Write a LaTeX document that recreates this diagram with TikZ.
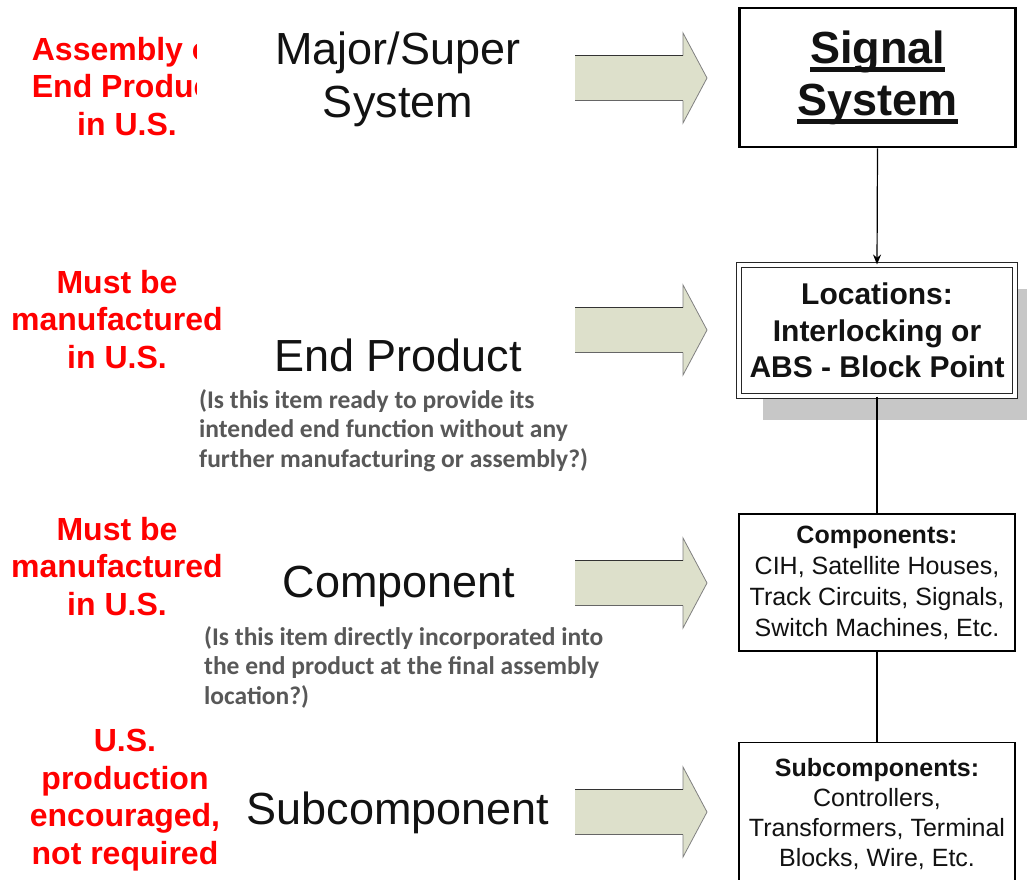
\documentclass[tikz,border=0pt]{standalone}
\usepackage{fontspec}
\setmainfont{Liberation Sans}
\newfontfamily\notefont{Carlito}
\usetikzlibrary{arrows.meta,shadows}

\definecolor{labelred}{RGB}{255,0,0}
\definecolor{arrowfill}{RGB}{221,224,203}
\definecolor{notegray}{RGB}{88,88,88}
\definecolor{inktext}{RGB}{18,18,18}

% heavy underline for the top box title
\newcommand\thickul[1]{\leavevmode\setbox0=\hbox{#1}\rlap{\rule[-8.5pt]{\wd0}{4.5pt}}\box0}

\begin{document}
\begin{tikzpicture}[x=1pt,y=-1pt,
  level/.style={font=\fontsize{45}{53}\selectfont, text=inktext, align=center, anchor=base, inner sep=0pt},
  req/.style={font=\bfseries\fontsize{32}{37.5}\selectfont, text=labelred, align=center, anchor=base, inner sep=0pt},
  note/.style={font=\notefont\bfseries\fontsize{25.5}{29.5}\selectfont, text=notegray, align=left, anchor=base west, inner sep=0pt},
  box/.style={draw=black, fill=white, minimum width=276pt, text=inktext, align=center, inner sep=0pt},
  pics/blockarrow/.style={code={
    \fill[arrowfill] (0,-22.5) -- (108,-22.5) -- (108,-45) -- (132,0) -- (108,45) -- (108,22.5) -- (0,22.5) -- cycle;
    \draw[gray, line width=0.8pt] (108,-22.5) -- (108,-45) -- (132,0) -- (108,45) -- (108,22.5);
    \draw[black!80, line width=1.5pt] (0,-22.5) -- (108,-22.5);
    \draw[black!60, line width=1.5pt] (0,22.5) -- (108,22.5);
  }}]
\useasboundingbox (0,0) rectangle (1027,879);

% red requirement labels (multi-line nodes sit on their last baseline)
\begin{scope}
  \clip (0,0) rectangle (196,200);
  \node[req] (reqA) at (127,135) {Assembly of\\End Product\\in U.S.};
\end{scope}
\node[req] (reqB) at (117,368) {Must be\\manufactured\\in U.S.};
\node[req] (reqC) at (117,615) {Must be\\manufactured\\in U.S.};
\node[req] (reqD) at (125,864) {U.S.\\production\\encouraged,\\not required};

% hierarchy levels
\node[level] (major) at (398,117) {Major/Super\\System};
\node[level] (endp) at (398,371) {End Product};
\node[level] (comp) at (399,597) {Component};
\node[level] (subc) at (398,824) {Subcomponent};

\node[note] (noteE) at (199,467) {(Is this item ready to provide its\\intended end function without any\\further manufacturing or assembly?)};
\node[note] (noteC) at (204,704) {(Is this item directly incorporated into\\the end product at the final assembly\\location?)};

% block arrows
\pic at (575,78) {blockarrow};
\pic at (575,330) {blockarrow};
\pic at (575,583) {blockarrow};
\pic at (575,812) {blockarrow};

% signal system boxes
\node[box, line width=2.5pt, minimum height=139pt, font=\bfseries\fontsize{45}{52}\selectfont]
  (sig) at (877.5,77.5) {\thickul{Signal}\\\thickul{System}};
\node[box, draw=black!85, double, double distance=3.5pt, line width=1pt, minimum height=131pt,
  drop shadow={shadow xshift=24pt, shadow yshift=-24pt, fill=black!22, opacity=1},
  font=\bfseries\fontsize{30}{36.5}\selectfont]
  (loc) at (877,330.5) {Locations:\\Interlocking or\\ABS - Block Point};
\node[box, line width=1.3pt, minimum height=137pt, font=\fontsize{25}{31}\selectfont]
  (cmp) at (877,582.5) {\textbf{Components:}\\CIH, Satellite Houses,\\Track Circuits, Signals,\\Switch Machines, Etc.};
\node[box, line width=1.3pt, minimum height=142pt, anchor=north, font=\fontsize{25}{30}\selectfont]
  (sub) at (877,742) {\textbf{Subcomponents:}\\Controllers,\\Transformers, Terminal\\Blocks, Wire, Etc.};

% connectors
\draw[line width=1.2pt, -{Stealth[length=10pt,width=8pt]}] (sig.south) -- (loc.north);
\draw[line width=1.2pt] (loc.south) -- (cmp.north);
\draw[line width=1.2pt] (cmp.south) -- (sub.north);
\end{tikzpicture}
\end{document}
